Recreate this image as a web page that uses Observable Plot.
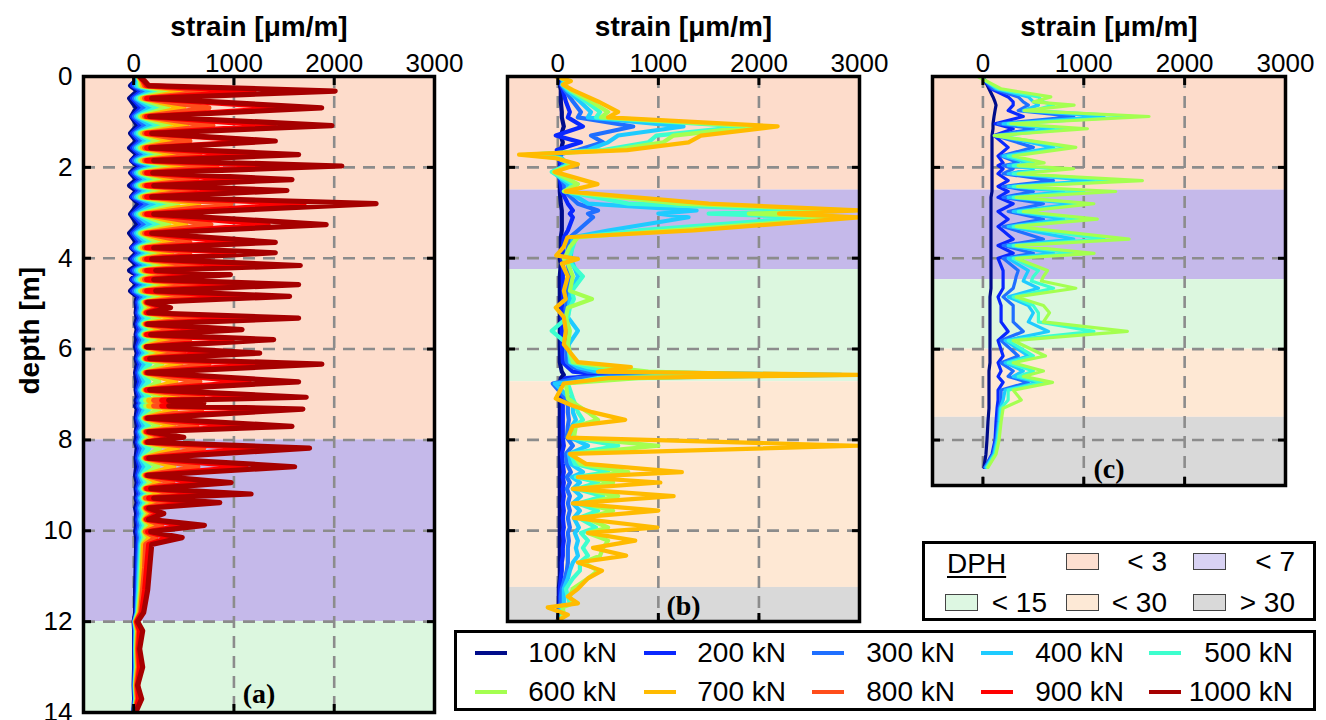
<!DOCTYPE html>
<html><head><meta charset="utf-8">
<script src="https://cdn.jsdelivr.net/npm/d3@7"></script>
<script src="https://cdn.jsdelivr.net/npm/@observablehq/plot@0.6"></script>
<style>
body{margin:0;background:#fff;}
#root{position:relative;width:1326px;height:720px;overflow:hidden;font-family:"Liberation Sans",Arial,sans-serif;background:#fff;}
.panel{position:absolute;top:0;}
.box{position:absolute;border:3.5px solid #000;box-sizing:border-box;background:#fff;}
.lt{position:absolute;font-size:28px;line-height:28px;white-space:nowrap;color:#000;}
.ls{position:absolute;height:4px;}
.patch{position:absolute;width:33px;height:17px;border:1.5px solid #444;box-sizing:border-box;}
</style></head><body><div id="root"></div>
<script>
// ---------- data ----------
const loads = ["100 kN","200 kN","300 kN","400 kN","500 kN","600 kN","700 kN","800 kN","900 kN","1000 kN"];
const loadColors = ["#000c8a","#0a28ff","#1f6fff","#1ecbff","#3dffce","#a4ff50","#ffbb00","#ff4d1a","#ff0000","#a60000"];
const xTicks = [0,1000,2000,3000];
const dphClasses = ["< 3","< 7","< 15","< 30","> 30"];
const dphColors = ["#fddccb","#c5b9ea","#dcf7df","#fee8d4","#d9d9d9"];
const dphLegendColors = ["#fddfd0","#d8d2f3","#ddf7e2","#fde9d6","#d9d9d9"];

// panel (a)
const depthA = [0,0.10,0.20,0.32,0.48,0.69,0.88,1.08,1.25,1.42,1.57,1.72,1.85,1.97,2.12,2.27,2.40,2.51,2.65,2.80,3.03,3.26,3.45,3.65,3.77,3.88,4.02,4.16,4.27,4.36,4.47,4.58,4.72,4.84,
4.97,5.09,5.20,5.32,5.45,5.57,5.68,5.79,5.95,6.09,6.21,6.33,6.52,6.72,6.90,7.06,7.13,7.19,7.25,7.32,7.52,7.70,7.82,7.94,8.05,8.18,8.40,8.59,8.78,8.94,9.07,9.19,9.28,9.38,9.50,9.62,9.75,9.88,10.02,10.15,
10.30,10.80,11.30,11.80,12.00,12.20,12.60,13.00,13.40,13.70,14.00];
const a100 = [10,20,-30,40,-40,30,-20,40,-30,30,-40,35,-20,40,-30,30,-40,30,-20,50,-30,40,-40,30,-20,30,-30,35,-40,25,-20,35,-30,35,
25,30,25,35,20,35,25,30,20,35,25,35,20,30,25,35,25,30,20,35,25,35,25,30,20,35,25,30,20,35,25,30,25,35,20,30,25,30,20,30,
30,25,20,20,5,10,10,10,5,10,0];
const a200 = [20,30,-10,80,-10,75,-10,80,-10,60,-10,65,-10,80,-10,60,-10,60,-10,100,-10,80,-10,55,-10,55,-10,65,-10,45,-10,65,-10,60,
40,50,40,60,40,55,40,60,40,55,40,60,40,60,40,60,45,60,45,60,40,60,40,55,40,60,40,60,40,55,40,55,40,55,40,50,40,50,40,50,
45,40,35,30,10,15,15,15,10,15,5];
const a300 = [30,40,10,120,10,110,10,120,10,90,10,100,10,120,10,95,10,90,10,150,10,115,10,85,10,85,10,100,10,70,10,100,10,95,
55,65,55,80,55,80,55,80,55,80,55,80,55,80,55,80,60,80,60,80,55,80,55,70,55,80,55,80,55,75,55,75,55,70,55,65,55,65,55,65,
60,50,45,35,10,20,20,20,15,20,5];
const a400 = [40,50,30,180,30,170,30,180,30,130,30,150,30,190,30,140,30,140,30,220,30,170,30,130,30,130,30,150,30,100,30,150,30,140,
70,80,70,110,70,110,70,110,70,110,70,110,70,110,70,110,80,110,80,110,70,110,70,90,70,110,70,110,70,100,70,100,70,95,70,85,70,85,70,80,
70,60,50,40,15,25,20,25,15,20,10];
const a500 = [40,60,50,260,50,240,50,260,50,180,50,210,50,270,50,200,50,200,50,310,50,250,50,180,50,180,50,220,50,140,50,210,50,200,
85,100,85,150,85,140,85,150,85,150,85,160,85,150,85,150,90,180,90,150,85,150,85,110,85,150,85,150,85,130,85,140,85,120,85,105,85,110,85,100,
80,70,60,45,15,30,25,30,20,25,10];
const a600 = [50,70,70,360,70,340,70,360,70,250,70,300,70,370,70,280,70,280,70,440,70,350,70,250,70,250,70,300,70,180,70,300,70,280,
100,130,100,250,100,200,100,220,100,210,100,280,100,250,100,260,120,370,120,250,100,240,100,150,100,260,100,240,100,170,100,180,100,160,100,130,100,140,100,120,
90,80,70,50,20,35,30,35,20,30,10];
const a700 = [50,80,90,540,90,500,90,530,90,380,90,440,90,560,90,430,90,410,90,650,90,520,90,380,90,380,90,450,90,260,90,440,90,420,
110,180,110,420,110,300,110,350,110,320,110,470,110,420,110,430,150,470,150,420,110,400,110,200,110,440,110,400,110,250,110,290,110,220,110,160,110,190,110,160,
100,90,80,60,20,40,35,40,25,35,15];
const a800 = [60,90,110,800,110,750,110,790,110,560,110,660,110,830,110,630,110,610,110,970,110,770,110,560,110,560,110,660,110,390,110,660,110,620,
120,240,120,660,120,430,120,560,120,500,120,750,120,660,120,690,200,560,200,680,120,630,120,300,120,700,120,640,120,390,120,470,120,340,120,200,120,280,120,220,
120,110,90,70,25,50,40,50,30,40,15];
const a900 = [60,100,130,1200,130,1550,130,1400,130,1270,130,1150,130,1450,130,1100,130,1070,130,1700,130,1340,130,1000,130,1000,130,1160,130,680,130,1150,130,1090,
130,300,130,1150,130,760,130,980,130,880,130,1310,130,1150,130,1200,280,650,280,1180,130,1100,130,400,130,1230,130,1120,130,680,130,820,150,600,130,250,130,500,140,350,
150,130,110,80,30,60,50,60,40,50,20];
const a1000 = [60,110,150,2010,180,1875,160,1977,180,1413,170,1645,200,2076,190,1579,200,1529,180,2418,200,1920,180,1413,200,1413,180,1662,220,965,200,1645,220,1555,
140,368,150,1645,140,1081,170,1396,130,1257,160,1877,140,1645,160,1721,350,700,350,1688,140,1579,150,500,140,1754,150,1605,140,972,170,1171,200,859,150,300,150,706,170,484,
180,160,140,100,40,90,60,90,40,80,20];
const bandsAFrom = [0,8,12];
const bandsATo = [8,12,14];
const bandsAClass = ["< 3","< 7","< 15"];

// panel (b)
const depthB = [0,0.10,0.18,0.30,0.55,0.78,0.90,1.10,1.30,1.45,1.62,1.72,1.80,1.93,2.10,2.37,2.53,2.80,2.95,3.02,3.10,3.39,3.54,3.75,3.94,4.02,4.12,4.40,4.72,4.90,5.09,5.30,5.60,5.90,6.29,6.40,6.50,6.57,6.64,6.76,7.09,7.25,7.39,7.56,7.70,7.95,8.13,8.31,8.53,8.71,8.82,8.94,9.08,9.24,9.40,9.56,9.72,9.93,10.05,10.22,10.38,10.55,10.70,10.88,11.05,11.28,11.45,11.60,11.69,11.85,11.98];
const b100 = [10,20,20,30,30,40,40,60,30,50,30,30,20,20,20,20,20,30,40,40,40,40,30,30,30,20,30,20,20,20,20,20,20,20,20,30,40,60,30,20,20,20,20,20,20,20,20,20,20,20,20,20,20,20,20,20,20,20,20,20,20,20,20,20,20,10,10,10,10,10,0];
const b200 = [20,40,30,50,80,120,100,250,-20,230,-10,20,10,30,10,30,40,100,150,120,150,100,60,50,50,40,50,50,50,50,40,40,40,40,50,100,150,500,80,20,40,50,50,50,50,50,60,40,50,60,50,60,50,60,50,60,50,60,50,60,50,50,40,40,30,20,20,20,10,10,10];
const b300 = [20,50,40,70,150,230,200,750,330,450,200,0,30,60,0,60,70,200,400,300,350,200,120,100,90,80,100,120,90,90,80,80,90,80,90,150,300,1000,200,-50,80,100,100,110,100,90,150,80,90,130,90,120,90,120,100,120,100,120,100,110,100,100,100,90,70,40,30,30,20,20,10];
const b400 = [20,60,40,90,220,330,300,1250,600,500,300,-100,40,100,-50,100,100,300,1380,1000,1300,500,150,140,130,120,150,200,130,120,110,100,200,110,120,200,400,2818,600,-30,120,150,150,180,140,130,300,110,130,250,140,220,150,230,150,220,160,210,170,200,180,200,150,120,100,60,60,60,30,30,10];
const b500 = [10,80,50,110,280,420,380,1850,980,900,450,-250,20,120,-60,150,80,700,2500,1500,2500,800,180,150,120,110,130,250,140,160,120,100,-60,100,130,300,600,1800,400,100,150,180,200,250,160,150,600,130,170,500,180,400,190,450,200,400,210,380,230,300,250,300,220,220,150,80,100,120,40,50,10];
const b600 = [0,100,60,130,330,500,430,1977,1150,1050,550,-300,0,150,-40,200,60,1200,2950,1900,2900,1150,200,120,80,60,100,150,120,340,100,80,120,100,150,500,900,2100,800,80,100,200,300,400,180,160,1000,150,220,700,250,550,250,600,260,550,280,500,300,500,450,420,250,400,300,150,120,150,50,60,20];
const b700 = [-20,130,50,150,400,600,500,2186,1423,1300,690,-385,-20,200,-30,395,80,1500,3000,2200,3000,1353,96,60,-15,200,40,100,60,80,-20,60,80,60,200,727,400,3000,500,60,-20,150,340,670,150,100,2990,120,280,1234,200,1020,150,1152,150,1000,160,990,300,770,350,680,200,440,300,200,100,200,-100,100,0];
const bandsBFrom = [0,2.5,4.25,6.72,11.25];
const bandsBTo = [2.5,4.25,6.72,11.25,12];
const bandsBClass = ["< 3","< 7","< 15","< 30","> 30"];

// panel (c)
const depthC = [0,0.27,0.45,0.56,0.63,0.75,0.88,1.04,1.15,1.30,1.56,1.75,1.90,1.96,2.03,2.14,2.29,2.42,2.53,2.66,2.80,2.97,3.14,3.30,3.58,3.72,3.89,4.00,4.27,4.40,4.50,4.66,4.85,5.04,5.20,5.40,5.61,5.81,6.15,6.30,6.48,6.60,6.73,6.90,7.12,7.30,7.60,8.00,8.31,8.60];
const c100 = [0,60,100,120,130,120,110,100,100,90,90,90,90,90,90,90,90,90,90,80,80,80,80,80,80,80,80,80,80,80,80,80,70,70,70,70,70,70,70,70,60,60,60,60,60,60,50,40,30,10];
const c200 = [-10,80,250,300,300,250,400,120,300,110,250,150,200,150,200,150,250,150,250,150,300,150,250,150,300,150,300,150,200,200,200,200,150,180,180,180,250,150,200,150,180,150,200,150,150,140,130,120,90,20];
const c300 = [-20,100,350,400,450,350,900,150,500,120,500,180,350,200,300,200,700,200,500,200,600,250,600,200,600,200,500,200,350,330,320,300,200,300,300,300,400,180,350,180,300,250,450,180,180,160,150,130,100,20];
const c400 = [-30,130,450,500,550,400,1200,200,700,130,700,200,450,250,500,250,1100,250,800,250,900,300,800,250,900,250,700,250,450,420,400,550,250,450,500,450,650,220,450,220,400,300,550,220,200,170,160,140,110,30];
const c500 = [-40,150,550,600,700,500,1500,250,900,150,850,250,500,300,700,300,1400,300,1000,300,1050,350,1000,300,1200,300,900,300,550,500,480,700,300,500,550,550,1100,250,500,250,500,350,600,250,250,180,170,150,120,40];
const c600 = [-50,178,673,500,904,409,1647,277,1036,112,921,300,607,350,900,350,1581,340,1317,330,1100,400,1134,330,1449,330,1102,330,640,600,580,921,330,600,660,600,1432,300,620,300,600,400,690,300,380,200,180,160,130,50];
const bandsCFrom = [0,2.5,4.47,6.0,7.5];
const bandsCTo = [2.5,4.47,6.0,7.5,9];
const bandsCClass = ["< 3","< 7","< 15","< 30","> 30"];

// ---------- drawing ----------
const FONT = "'Liberation Sans', Arial, sans-serif";
const root = document.getElementById("root");

function makePanel(opt) {
  const {depth, series, bandsFrom, bandsTo, bandsClass, yMax, yGrid, letter, left, width, height, mLeft, mRight, mBottom, sw, yLabels, letterDy} = opt;
  const marks = [];
  bandsFrom.forEach((f, i) => {
    marks.push(Plot.rect([{from: f, to: bandsTo[i]}], {x1: -500, x2: 3000, y1: "from", y2: "to",
      fill: dphColors[dphClasses.indexOf(bandsClass[i])]}));
  });
  marks.push(Plot.gridX({ticks: [0,1000,2000], stroke: "#8c8c8c", strokeOpacity: 1, strokeWidth: 2.6, strokeDasharray: "12,8"}));
  marks.push(Plot.gridY({ticks: yGrid, stroke: "#8c8c8c", strokeOpacity: 1, strokeWidth: 2.6, strokeDasharray: "12,8"}));
  series.forEach((vals, k) => {
    const data = depth.map((d, i) => ({d, s: vals[i]}));
    marks.push(Plot.line(data, {x: "s", y: "d", stroke: loadColors[k], strokeWidth: sw, clip: true,
      strokeLinejoin: "round", strokeLinecap: "round"}));
  });
  marks.push(Plot.frame({stroke: "#000", strokeWidth: 3.5}));
  // inward ticks on all four sides
  marks.push(Plot.axisX({anchor: "top", ticks: xTicks, tickSize: -8, strokeWidth: 3, tickFormat: () => "", label: null}));
  marks.push(Plot.axisX({anchor: "bottom", ticks: xTicks, tickSize: -8, strokeWidth: 3, tickFormat: () => "", label: null}));
  const yt = d3.range(0, yMax + 0.01, 2);
  marks.push(Plot.axisY({anchor: "left", ticks: yt, tickSize: -8, strokeWidth: 3, tickFormat: () => "", label: null}));
  marks.push(Plot.axisY({anchor: "right", ticks: yt, tickSize: -8, strokeWidth: 3, tickFormat: () => "", label: null}));
  // labels
  marks.push(Plot.axisX({anchor: "top", ticks: xTicks, tickSize: 0, tickPadding: 5, fontSize: 26, tickFormat: d => String(d), label: null}));
  if (yLabels) {
    marks.push(Plot.axisY({anchor: "left", ticks: yt, tickSize: 0, tickPadding: 11, fontSize: 26, tickFormat: d => String(d), label: null}));
    marks.push(Plot.text(["depth [m]"], {text: d => d, frameAnchor: "left", dx: -53, rotate: -90, fontSize: 28, fontWeight: "bold"}));
  }
  marks.push(Plot.text(["strain [μm/m]"], {text: d => d, frameAnchor: "top", dy: -41, lineAnchor: "bottom", fontSize: 28, fontWeight: "bold"}));
  marks.push(Plot.text([letter], {text: d => d, frameAnchor: "bottom", dy: letterDy, lineAnchor: "bottom", fontSize: 28, fontWeight: "bold", fontFamily: "'Liberation Serif', 'Times New Roman', serif"}));
  const svg = Plot.plot({
    width, height,
    marginLeft: mLeft, marginRight: mRight, marginTop: 76, marginBottom: mBottom,
    x: {domain: [-500, 3000], label: null, axis: null},
    y: {domain: [0, yMax], reverse: true, label: null, axis: null},
    style: {fontFamily: FONT, background: "transparent", overflow: "visible", color: "#000"},
    marks
  });
  svg.classList.add("panel");
  svg.style.left = left + "px";
  svg.style.position = "absolute";
  svg.style.top = "0px";
  root.appendChild(svg);
}

makePanel({depth: depthA, series: [a100,a200,a300,a400,a500,a600,a700,a800,a900,a1000],
  bandsFrom: bandsAFrom, bandsTo: bandsATo, bandsClass: bandsAClass, yMax: 14, yGrid: [2,4,6,8,10,12],
  letter: "(a)", left: 0, width: 460, height: 720, mLeft: 83, mRight: 26, mBottom: 8, sw: 5.2, yLabels: true, letterDy: -10});
makePanel({depth: depthB, series: [b100,b200,b300,b400,b500,b600,b700],
  bandsFrom: bandsBFrom, bandsTo: bandsBTo, bandsClass: bandsBClass, yMax: 12, yGrid: [2,4,6,8,10],
  letter: "(b)", left: 470, width: 420, height: 625, mLeft: 37, mRight: 31, mBottom: 4, sw: 4.2, yLabels: false, letterDy: -7});
makePanel({depth: depthC, series: [c100,c200,c300,c400,c500,c600],
  bandsFrom: bandsCFrom, bandsTo: bandsCTo, bandsClass: bandsCClass, yMax: 9, yGrid: [2,4,6,8],
  letter: "(c)", left: 895, width: 421, height: 490, mLeft: 37, mRight: 31, mBottom: 5, sw: 3.2, yLabels: false, letterDy: -8});

// ---------- legends ----------
function el(cls, css, text) {
  const d = document.createElement("div");
  d.className = cls;
  Object.assign(d.style, css);
  if (text != null) d.textContent = text;
  root.appendChild(d);
  return d;
}
// DPH legend
el("box", {left: "922px", top: "541px", width: "394px", height: "80px"});
el("lt", {left: "947px", top: (564 - 14) + "px", textDecoration: "underline", textUnderlineOffset: "3px", textDecorationThickness: "2px"}, "DPH");
const dphPos = [[1066, 553, 1167], [1193, 553, 1295], [945, 594, 1047], [1066, 594, 1167], [1193, 594, 1295]];
dphClasses.forEach((c, i) => {
  const [px, py, tx] = dphPos[i];
  el("patch", {left: px + "px", top: py + "px", background: dphLegendColors[i]});
  el("lt", {left: (tx - 120) + "px", width: "120px", textAlign: "right", top: (py + 9 - 14) + "px"}, c);
});
// load legend
el("box", {left: "454px", top: "630px", width: "862px", height: "81px"});
loads.forEach((L, i) => {
  const row = Math.floor(i / 5), col = i % 5;
  const lx = 475 + 168.5 * col;
  const cy = row === 0 ? 653 : 692;
  el("ls", {left: lx + "px", top: (cy - 2) + "px", width: "32px", background: loadColors[i]});
  const tx = 617 + 169 * col;
  el("lt", {left: (tx - 140) + "px", width: "140px", textAlign: "right", top: (cy - 14) + "px"}, L);
});
</script></body></html>
